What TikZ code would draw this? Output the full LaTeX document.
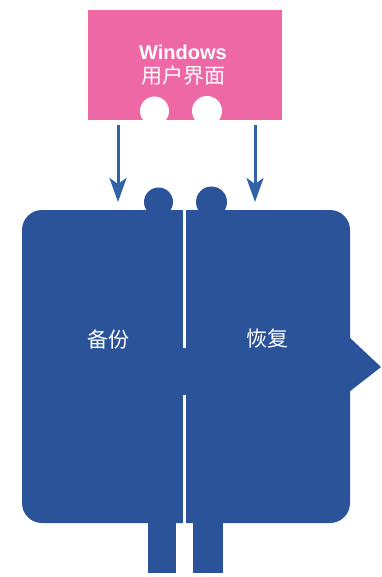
\documentclass[tikz,border=0pt]{standalone}
\usepackage{fontspec}
\setmainfont{Liberation Sans}
\newfontfamily\cjk{Noto Sans CJK SC}
\usetikzlibrary{arrows.meta}
\definecolor{uipink}{RGB}{238,104,166}
\definecolor{bodyblue}{RGB}{42,83,153}
\definecolor{arrowblue}{RGB}{50,98,168}
\tikzset{
  uibox/.style={fill=uipink, inner sep=0pt, minimum width=194pt, minimum height=110pt},
  whitetext/.style={text=white, inner sep=0pt},
  flow/.style={arrowblue, line width=3pt, -{Stealth[length=24pt, width=17pt, inset=6pt]}}
}
\begin{document}
\begin{tikzpicture}[x=1pt, y=-1pt]
  \useasboundingbox[fill=white] (0,0) rectangle (381,577);
  % --- user interface --------------------------------------------
  \node[uibox] (ui) at (185,65) {};
  \fill[white] (154.5,111) circle [radius=14.5];
  \fill[white] (207,111) circle [radius=15];
  \node[whitetext, font=\bfseries\fontsize{20}{22}\selectfont] (win) at (183,52) {Windows};
  \node[whitetext, font=\cjk\fontsize{21}{24}\selectfont] (uilabel) at (183,76) {用户界面};
  % --- body ------------------------------------------------------
  \fill[bodyblue, rounded corners=20pt] (22,210) rectangle (350,523);
  \fill[bodyblue] (158.5,202) circle [radius=14.5];
  \fill[bodyblue] (211.5,202) circle [radius=15.5];
  \fill[bodyblue] (349,337) -- (381,367) -- (349,392) -- cycle;
  \fill[bodyblue] (148,520) rectangle (176,573);
  \fill[bodyblue] (193,520) rectangle (223,573);
  % --- split -----------------------------------------------------
  \fill[white] (182.5,204) rectangle (185.5,348);
  \fill[white] (182.5,395) rectangle (185.5,524);
  \node[whitetext, font=\cjk\fontsize{21}{24}\selectfont] (backup) at (108,339) {备份};
  \node[whitetext, font=\cjk\fontsize{21}{24}\selectfont] (restore) at (267,339) {恢复};
  % --- arrows ----------------------------------------------------
  \coordinate (backupin) at (118,202);
  \coordinate (restorein) at (255,202);
  \draw[flow, shorten <=5pt] (ui.south -| backupin) -- (backupin);
  \draw[flow, shorten <=5pt] (ui.south -| restorein) -- (restorein);
\end{tikzpicture}
\end{document}
